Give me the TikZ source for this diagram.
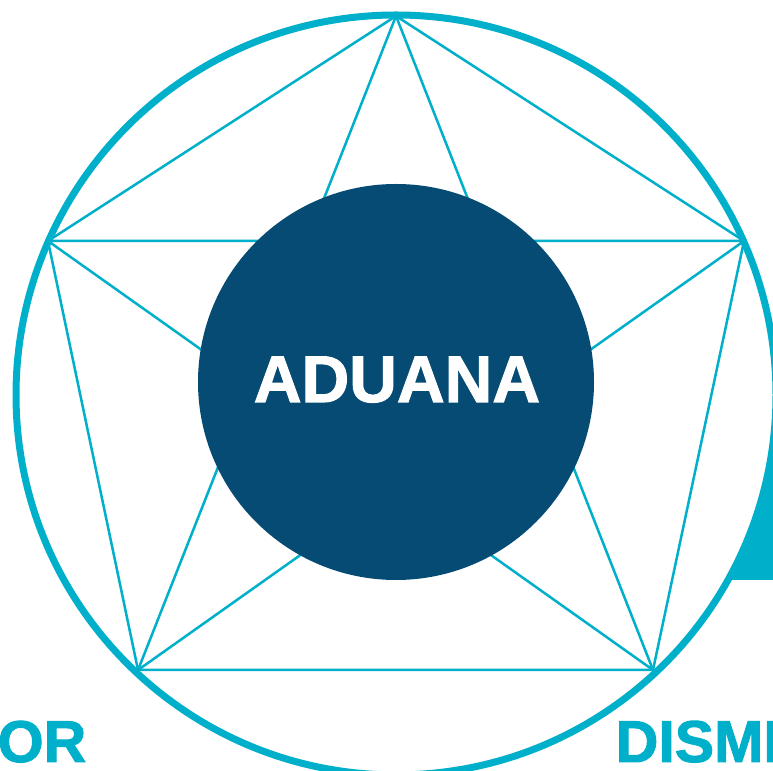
\documentclass[tikz,border=0pt]{standalone}
\usepackage{fontspec}
\setmainfont{Liberation Sans}
\newfontfamily\heavyfont[FakeBold=1.6]{Liberation Sans Bold}
\definecolor{aduanateal}{HTML}{00B0CA}
\definecolor{aduanablue}{HTML}{064B73}

\begin{document}
\begin{tikzpicture}[x=0.1mm,y=-0.1mm,
  rim/.style={draw=aduanateal,line width=0.7mm},
  spoke/.style={draw=aduanateal,line width=0.25mm,line join=round},
  word/.style={inner sep=0,text=aduanateal,font=\heavyfont\fontsize{16.8}{19}\selectfont}]
\useasboundingbox (0,0) rectangle (773,771);

% band leaving the ring on the right
\fill[aduanateal] (700,450) rectangle (800,580);

% ring
\coordinate (c) at (396,395);
\filldraw[rim,fill=white] (c) circle (38mm);

% corners of the star
\coordinate (t) at (396,16);
\coordinate (l) at (48,241);
\coordinate (r) at (744,241);
\coordinate (bl) at (138,670);
\coordinate (br) at (653,670);

\draw[spoke] (t)--(l)--(bl)--(br)--(r)--cycle;
\draw[spoke] (t)--(bl) (t)--(br) (l)--(r) (l)--(br) (r)--(bl);

% centre
\node[circle,fill=aduanablue,minimum size=39.6mm,inner sep=0] (core) at (396,382) {};
\node[anchor=base,text=white,font=\heavyfont\fontsize{18.8}{22}\selectfont] (lbl) at (397,402) {ADUANA};

\node[word,anchor=base east] (left) at (87,762) {OR};
\node[word,anchor=base west] (right) at (615,762) {DISMI};
\end{tikzpicture}
\end{document}
